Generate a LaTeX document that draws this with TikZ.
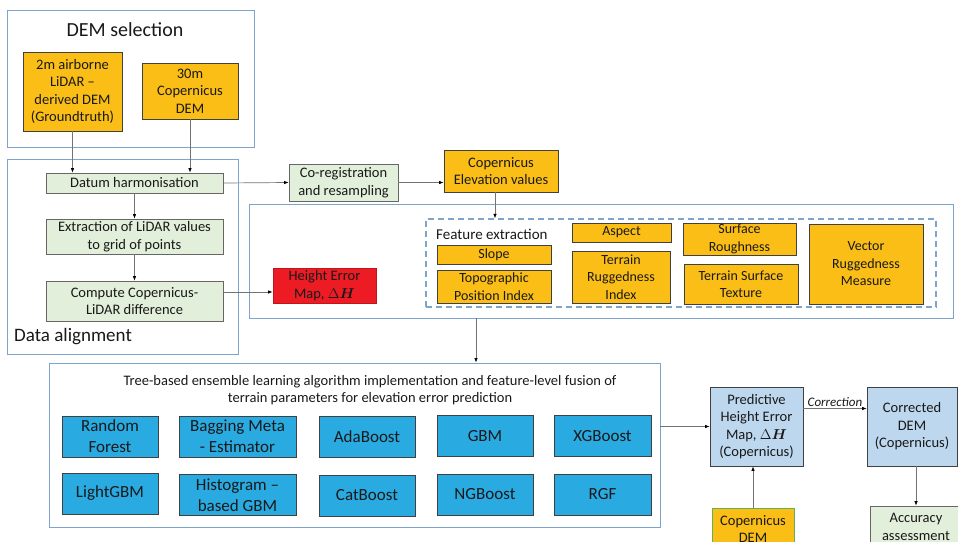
\documentclass[tikz,border=0pt]{standalone}
\usepackage{fontspec}
\setmainfont{Carlito}
\usepackage{bm}
\usetikzlibrary{arrows.meta}

\definecolor{groupblue}{HTML}{7EA4CC}
\definecolor{boxorange}{HTML}{FBBE16}
\definecolor{procgreen}{HTML}{E2EFDA}
\definecolor{algoblue}{HTML}{29ABE2}
\definecolor{resblue}{HTML}{BDD7EE}
\definecolor{errred}{HTML}{ED1C24}
\definecolor{edgegreen}{HTML}{5BB450}

\begin{document}
\begin{tikzpicture}[
            x=1pt, y=-1pt,
            every node/.style={align=center, inner sep=1pt, text=black!90,
                font=\fontsize{14.5}{17.5}\selectfont},
            sz/.style 2 args={minimum width=#1, minimum height=#2},
            group/.style={draw=groupblue, line width=0.9pt},
            src/.style={draw=black!75, fill=boxorange, line width=0.8pt},
            proc/.style={draw=black!60, fill=procgreen, line width=0.8pt},
            feat/.style={src, font=\fontsize{14}{17.5}\selectfont},
            algo/.style={draw=black!75, fill=algoblue, line width=0.8pt,
                font=\fontsize{17}{21}\selectfont},
            result/.style={draw=black!75, fill=resblue, line width=0.8pt},
            arr/.style={draw=black!55, line width=0.7pt,
                -{Latex[length=4.5pt,width=3.5pt,color=black]}},
            ]
            \clip (0,0) rectangle (958,541);

            % DEM selection
            \node[group, sz={247}{137}] (demsel) at (130.5,78.5) {};
            \node[font=\fontsize{20}{24}\selectfont] (demtitle) at (125,30) {DEM selection};
            \node[src, sz={99}{79}] (lidar) at (72.5,91.5) {2m airborne\\LiDAR –\\derived DEM\\(Groundtruth)};
            \node[src, sz={96}{56}] (cop30) at (190,91) {30m\\Copernicus\\DEM};

            % data alignment
            \node[group, sz={231}{195}] (align) at (122.5,256.5) {};
            \node[anchor=west, font=\fontsize{19}{23}\selectfont] (aligntitle) at (13,337) {Data alignment};
            \node[proc, sz={177}{20}] (datum) at (134.5,183) {Datum harmonisation};
            \node[proc, sz={177}{35}] (extract) at (134.5,236.5) {Extraction of LiDAR values\\to grid of points};
            \node[proc, sz={177}{40}] (compute) at (134.5,301) {Compute Copernicus-\\LiDAR difference};

            \node[proc, sz={109}{37}] (coreg) at (343.5,182.5) {Co-registration\\and resampling};
            \node[src, sz={114}{42}] (elev) at (501,171) {Copernicus\\Elevation values};

            % feature extraction
            \node[group, sz={704}{114}] (midbox) at (601,261) {};
            \node[draw=errred!80!black, fill=errred, line width=0.8pt, sz={103}{35}] (herr) at (324.5,285.5) {Height Error\\Map, $\Delta\bm{H}$};
            \node[draw=groupblue, line width=1.3pt, dash pattern=on 6pt off 4pt, sz={510}{88}] (featbox) at (681,263) {};
            \node[anchor=west, font=\fontsize{15}{18}\selectfont] (feattitle) at (435,234) {Feature extraction};
            \node[feat, sz={114}{19}] (slope) at (494,254.5) {Slope};
            \node[feat, sz={114}{33}] (tpi) at (494,286.5) {Topographic\\Position Index};
            \node[feat, sz={99}{19}] (aspect) at (621.5,232.5) {Aspect};
            \node[feat, sz={98}{52}] (tri) at (621,277) {Terrain\\Ruggedness\\Index};
            \node[feat, sz={113}{32}] (rough) at (739.5,239) {Surface\\Roughness};
            \node[feat, sz={114}{40}] (texture) at (741,284) {Terrain Surface\\Texture};
            \node[feat, sz={114}{80}] (vrm) at (866,264) {Vector\\Ruggedness\\Measure};

            % ensemble learning
            \node[group, sz={611}{164}] (tree) at (354.5,445) {};
            \node (treetitle) at (370,390) {Tree-based ensemble learning algorithm implementation and feature-level fusion of\\terrain parameters for elevation error prediction};
            \node[algo, sz={96}{41}] (rf) at (110,436.5) {Random\\Forest};
            \node[algo, sz={117}{41}] (bag) at (237.5,436.5) {Bagging Meta\\- Estimator};
            \node[algo, sz={96}{41}] (ada) at (367,436.5) {AdaBoost};
            \node[algo, sz={96}{41}] (gbm) at (485,436) {GBM};
            \node[algo, sz={97}{41}] (xgb) at (602.5,436) {XGBoost};
            \node[algo, sz={96}{41}] (lgbm) at (110,493.5) {LightGBM};
            \node[algo, sz={117}{41}] (hist) at (237.5,495) {Histogram –\\based GBM};
            \node[algo, sz={96}{41}] (cat) at (367,495.5) {CatBoost};
            \node[algo, sz={96}{41}] (ngb) at (485,494.5) {NGBoost};
            \node[algo, sz={97}{41}] (rgf) at (602.5,494.5) {RGF};

            % prediction and correction
            \node[result, sz={93}{79}] (pred) at (756.5,426.5) {Predictive\\Height Error\\Map, $\Delta\bm{H}$\\(Copernicus)};
            \node[result, sz={90}{79}] (corr) at (912,426.5) {Corrected\\DEM\\(Copernicus)};
            \node[draw=edgegreen, fill=boxorange, line width=1pt, sz={82}{42}] (copdem) at (753,529) {Copernicus\\DEM};
            \node[proc, sz={92}{42}] (acc) at (916,527) {Accuracy\\assessment};

            \draw[arr] (lidar.south) -- (lidar.south |- datum.north);
            \draw[arr] (cop30.south) -- (cop30.south |- datum.north);
            \draw[arr] (datum.south) -- (extract.north);
            \draw[arr] (extract.south) -- (compute.north);
            \draw[arr] (datum.east) -- (coreg.west);
            \draw[arr] (coreg.east) -- (coreg.east -| elev.west);
            \draw[arr] ([xshift=-6pt]elev.south) -- ([xshift=-6pt]elev.south |- featbox.north);
            \draw[arr] ([yshift=9pt]compute.east) -- ([yshift=9pt]compute.east -| herr.west);
            \draw[arr] (midbox.south -| 476,0) -- (tree.north -| 476,0);
            \draw[arr] (pred.west -| tree.east) -- (pred.west);
            \draw[arr] ([yshift=18pt]pred.east) -- ([yshift=18pt]pred.east -| corr.west)
                node[midway, above, inner sep=1.5pt, font=\itshape\fontsize{13}{15}\selectfont] {Correction};
            \draw[arr] (copdem.north) -- (copdem.north |- pred.south);
            \draw[arr] ([xshift=4pt]corr.south) -- ([xshift=4pt]corr.south |- acc.north);
        \end{tikzpicture}
\end{document}
